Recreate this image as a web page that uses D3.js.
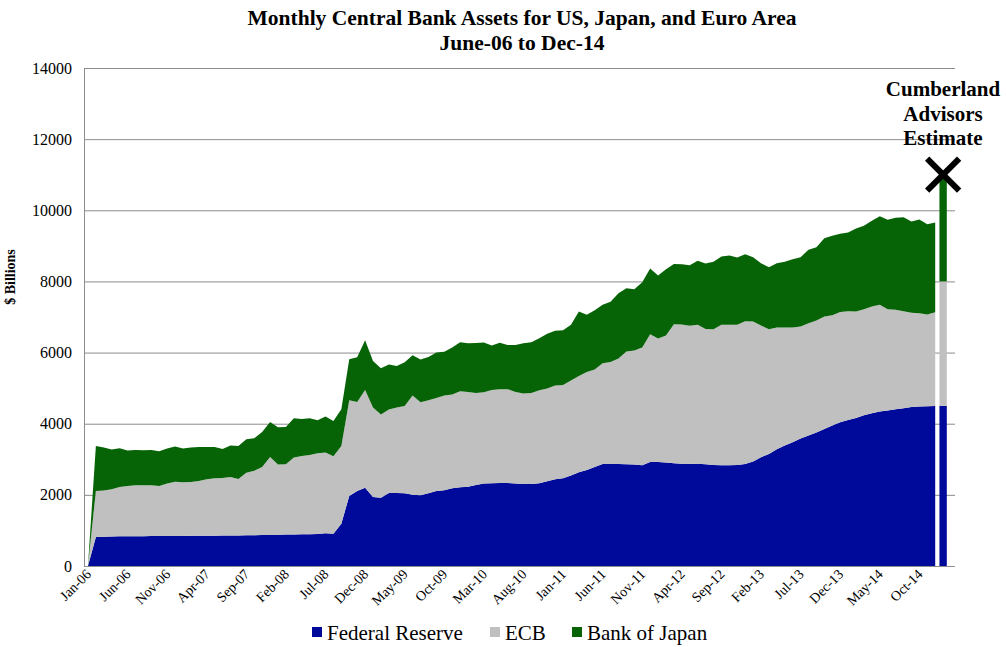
<!DOCTYPE html>
<html><head><meta charset="utf-8">
<script src="https://cdn.jsdelivr.net/npm/d3@7"></script>
<style>body{margin:0;background:#fff}svg{display:block}text{font-family:"Liberation Serif","Times New Roman",serif}</style>
</head><body>
<script>
// ---- data ----
const seriesNames = ["Federal Reserve", "ECB", "Bank of Japan"];
const seriesColors = ["#000a9a", "#c0c0c0", "#066306"];
const startMonth = "2006-01", endMonth = "2014-12";
const fedValues = [0,816,825,830,834,834,838,838,840,840,844,846,846,850,850,853,853,856,856,858,862,866,870,875,880,885,888,890,893,900,919,909,1191,1969,2110,2203,1941,1922,2053,2053,2044,2006,1988,2044,2110,2128,2185,2213,2231,2280,2316,2325,2335,2335,2316,2307,2307,2325,2381,2438,2466,2541,2635,2700,2785,2869,2869,2869,2860,2850,2832,2925,2925,2907,2888,2878,2869,2878,2860,2841,2832,2832,2841,2869,2935,3056,3150,3281,3385,3478,3582,3666,3750,3853,3947,4041,4107,4163,4238,4294,4341,4369,4407,4435,4472,4482,4491,4500];
const ecbValues = [0,1294,1294,1326,1388,1416,1431,1431,1429,1410,1472,1526,1507,1513,1541,1585,1613,1619,1647,1589,1763,1815,1915,2191,1970,1975,2159,2204,2229,2269,2269,2176,2184,2691,2503,2747,2513,2335,2344,2401,2456,2785,2616,2616,2616,2663,2634,2700,2663,2586,2569,2625,2634,2634,2578,2540,2559,2616,2607,2635,2625,2672,2709,2757,2737,2831,2869,2963,3169,3207,3309,3591,3469,3572,3910,3910,3882,3901,3806,3816,3947,3947,3938,4013,3938,3704,3507,3423,3319,3226,3150,3160,3151,3160,3104,3103,3056,2991,2981,3000,3000,2850,2794,2728,2644,2625,2578,2635];
const bojValues = [0,1265,1209,1116,1088,994,994,984,994,975,984,985,947,965,956,909,881,816,882,928,938,910,984,984,1050,1050,1107,1041,1032,928,1012,994,1032,1153,1256,1398,1312,1303,1266,1172,1229,1135,1200,1219,1275,1229,1322,1378,1369,1406,1397,1248,1304,1247,1322,1416,1425,1463,1538,1537,1538,1566,1810,1603,1669,1641,1688,1837,1781,1725,1838,1847,1773,1866,1692,1697,1706,1800,1838,1894,1922,1950,1894,1884,1809,1753,1744,1809,1847,1922,1950,2062,2062,2204,2231,2194,2213,2334,2344,2410,2494,2513,2587,2644,2569,2634,2541,2522];
const estimateValues = [4500, 3500, 3000];
const estimateLabel = ["Cumberland", "Advisors", "Estimate"];
const tickLabels = ["Jan-06","Jun-06","Nov-06","Apr-07","Sep-07","Feb-08","Jul-08","Dec-08","May-09","Oct-09","Mar-10","Aug-10","Jan-11","Jun-11","Nov-11","Apr-12","Sep-12","Feb-13","Jul-13","Dec-13","May-14","Oct-14"];
const yTicks = [0,2000,4000,6000,8000,10000,12000,14000];
const titleLines = ["Monthly Central Bank Assets for US, Japan, and Euro Area", "June-06 to Dec-14"];
const yAxisTitle = "$ Billions";

// ---- categories ----
const fmt = d3.timeFormat("%b-%y");
const parse = d3.timeParse("%Y-%m");
const months = d3.timeMonths(parse(startMonth), d3.timeMonth.offset(parse(endMonth), 1)).map(fmt);
const categories = months.concat(["Estimate", ""]);

const W = 1006, H = 647;
const L = 84, R = 955, T = 68, B = 566;
const svg = d3.select("body").append("svg").attr("width", W).attr("height", H);

const x = d3.scaleBand().domain(categories).range([L, R]).padding(0);
const xc = c => x(c) + x.bandwidth() / 2;
const y = d3.scaleLinear().domain([0, 14000]).range([B, T]);

// gridlines
svg.append("g").selectAll("line").data(yTicks.filter(d => d > 0)).join("line")
  .attr("x1", L).attr("x2", R).attr("y1", d => y(d) + 0.5).attr("y2", d => y(d) + 0.5)
  .attr("stroke", "#8c8c8c").attr("stroke-width", 1);

// stacked areas
const rows = months.map((m, i) => ({cat: m, "Federal Reserve": fedValues[i], "ECB": ecbValues[i], "Bank of Japan": bojValues[i]}));
const stacked = d3.stack().keys(seriesNames)(rows);
const area = d3.area().x(d => xc(d.data.cat)).y0(d => y(d[0])).y1(d => y(d[1]));
svg.append("g").selectAll("path").data(stacked).join("path")
  .attr("d", area).attr("fill", (d, i) => seriesColors[i]);

// estimate stacked column
const estRow = [{cat: "Estimate", "Federal Reserve": estimateValues[0], "ECB": estimateValues[1], "Bank of Japan": estimateValues[2]}];
const estStack = d3.stack().keys(seriesNames)(estRow);
const bw = x.bandwidth() * 0.93;
svg.append("g").selectAll("rect").data(estStack).join("rect")
  .attr("x", xc("Estimate") - bw / 2).attr("width", bw)
  .attr("y", d => y(d[0][1])).attr("height", d => y(d[0][0]) - y(d[0][1]))
  .attr("fill", (d, i) => seriesColors[i]);

// axes lines
svg.append("line").attr("x1", L + 0.5).attr("x2", L + 0.5).attr("y1", T).attr("y2", B + 0.5).attr("stroke", "#8c8c8c");
svg.append("line").attr("x1", L).attr("x2", R).attr("y1", B + 0.5).attr("y2", B + 0.5).attr("stroke", "#8c8c8c");

// y labels
svg.append("g").selectAll("text").data(yTicks).join("text")
  .attr("x", 72).attr("y", d => y(d)).attr("dy", "0.35em").attr("text-anchor", "end")
  .attr("font-size", 16).text(d => d);
svg.append("text").attr("transform", `translate(15,${(T + B) / 2 - 40}) rotate(-90)`)
  .attr("text-anchor", "middle").attr("font-size", 14).attr("font-weight", "bold").text(yAxisTitle);

// x labels
svg.append("g").selectAll("text").data(tickLabels).join("text")
  .attr("transform", d => `translate(${xc(d) + 4},${B + 9}) rotate(-45)`)
  .attr("text-anchor", "end").attr("font-size", 14).text(d => d);

// title
svg.append("g").selectAll("text").data(titleLines).join("text")
  .attr("x", 522).attr("y", (d, i) => 25 + i * 25).attr("text-anchor", "middle")
  .attr("font-size", 21.5).attr("font-weight", "bold").text(d => d);

// estimate annotation
svg.append("g").selectAll("text").data(estimateLabel).join("text")
  .attr("x", 943).attr("y", (d, i) => 96 + i * 24.5).attr("text-anchor", "middle")
  .attr("font-size", 21).attr("font-weight", "bold").text(d => d);
const ex = xc("Estimate"), ey = y(11000), s = 16;
svg.append("g").attr("stroke", "#000").attr("stroke-width", 6).selectAll("line")
  .data([[-1, -1, 1, 1], [-1, 1, 1, -1]]).join("line")
  .attr("x1", d => ex + d[0] * s).attr("y1", d => ey + d[1] * s)
  .attr("x2", d => ex + d[2] * s).attr("y2", d => ey + d[3] * s);

// legend
const legendX = [312, 490, 572];
const lg = svg.append("g").selectAll("g").data(seriesNames).join("g")
  .attr("transform", (d, i) => `translate(${legendX[i]},627)`);
lg.append("rect").attr("width", 10).attr("height", 10).attr("fill", (d, i) => seriesColors[i]);
lg.append("text").attr("x", 15).attr("y", 13).attr("font-size", 21).text(d => d);
</script>
</body></html>
